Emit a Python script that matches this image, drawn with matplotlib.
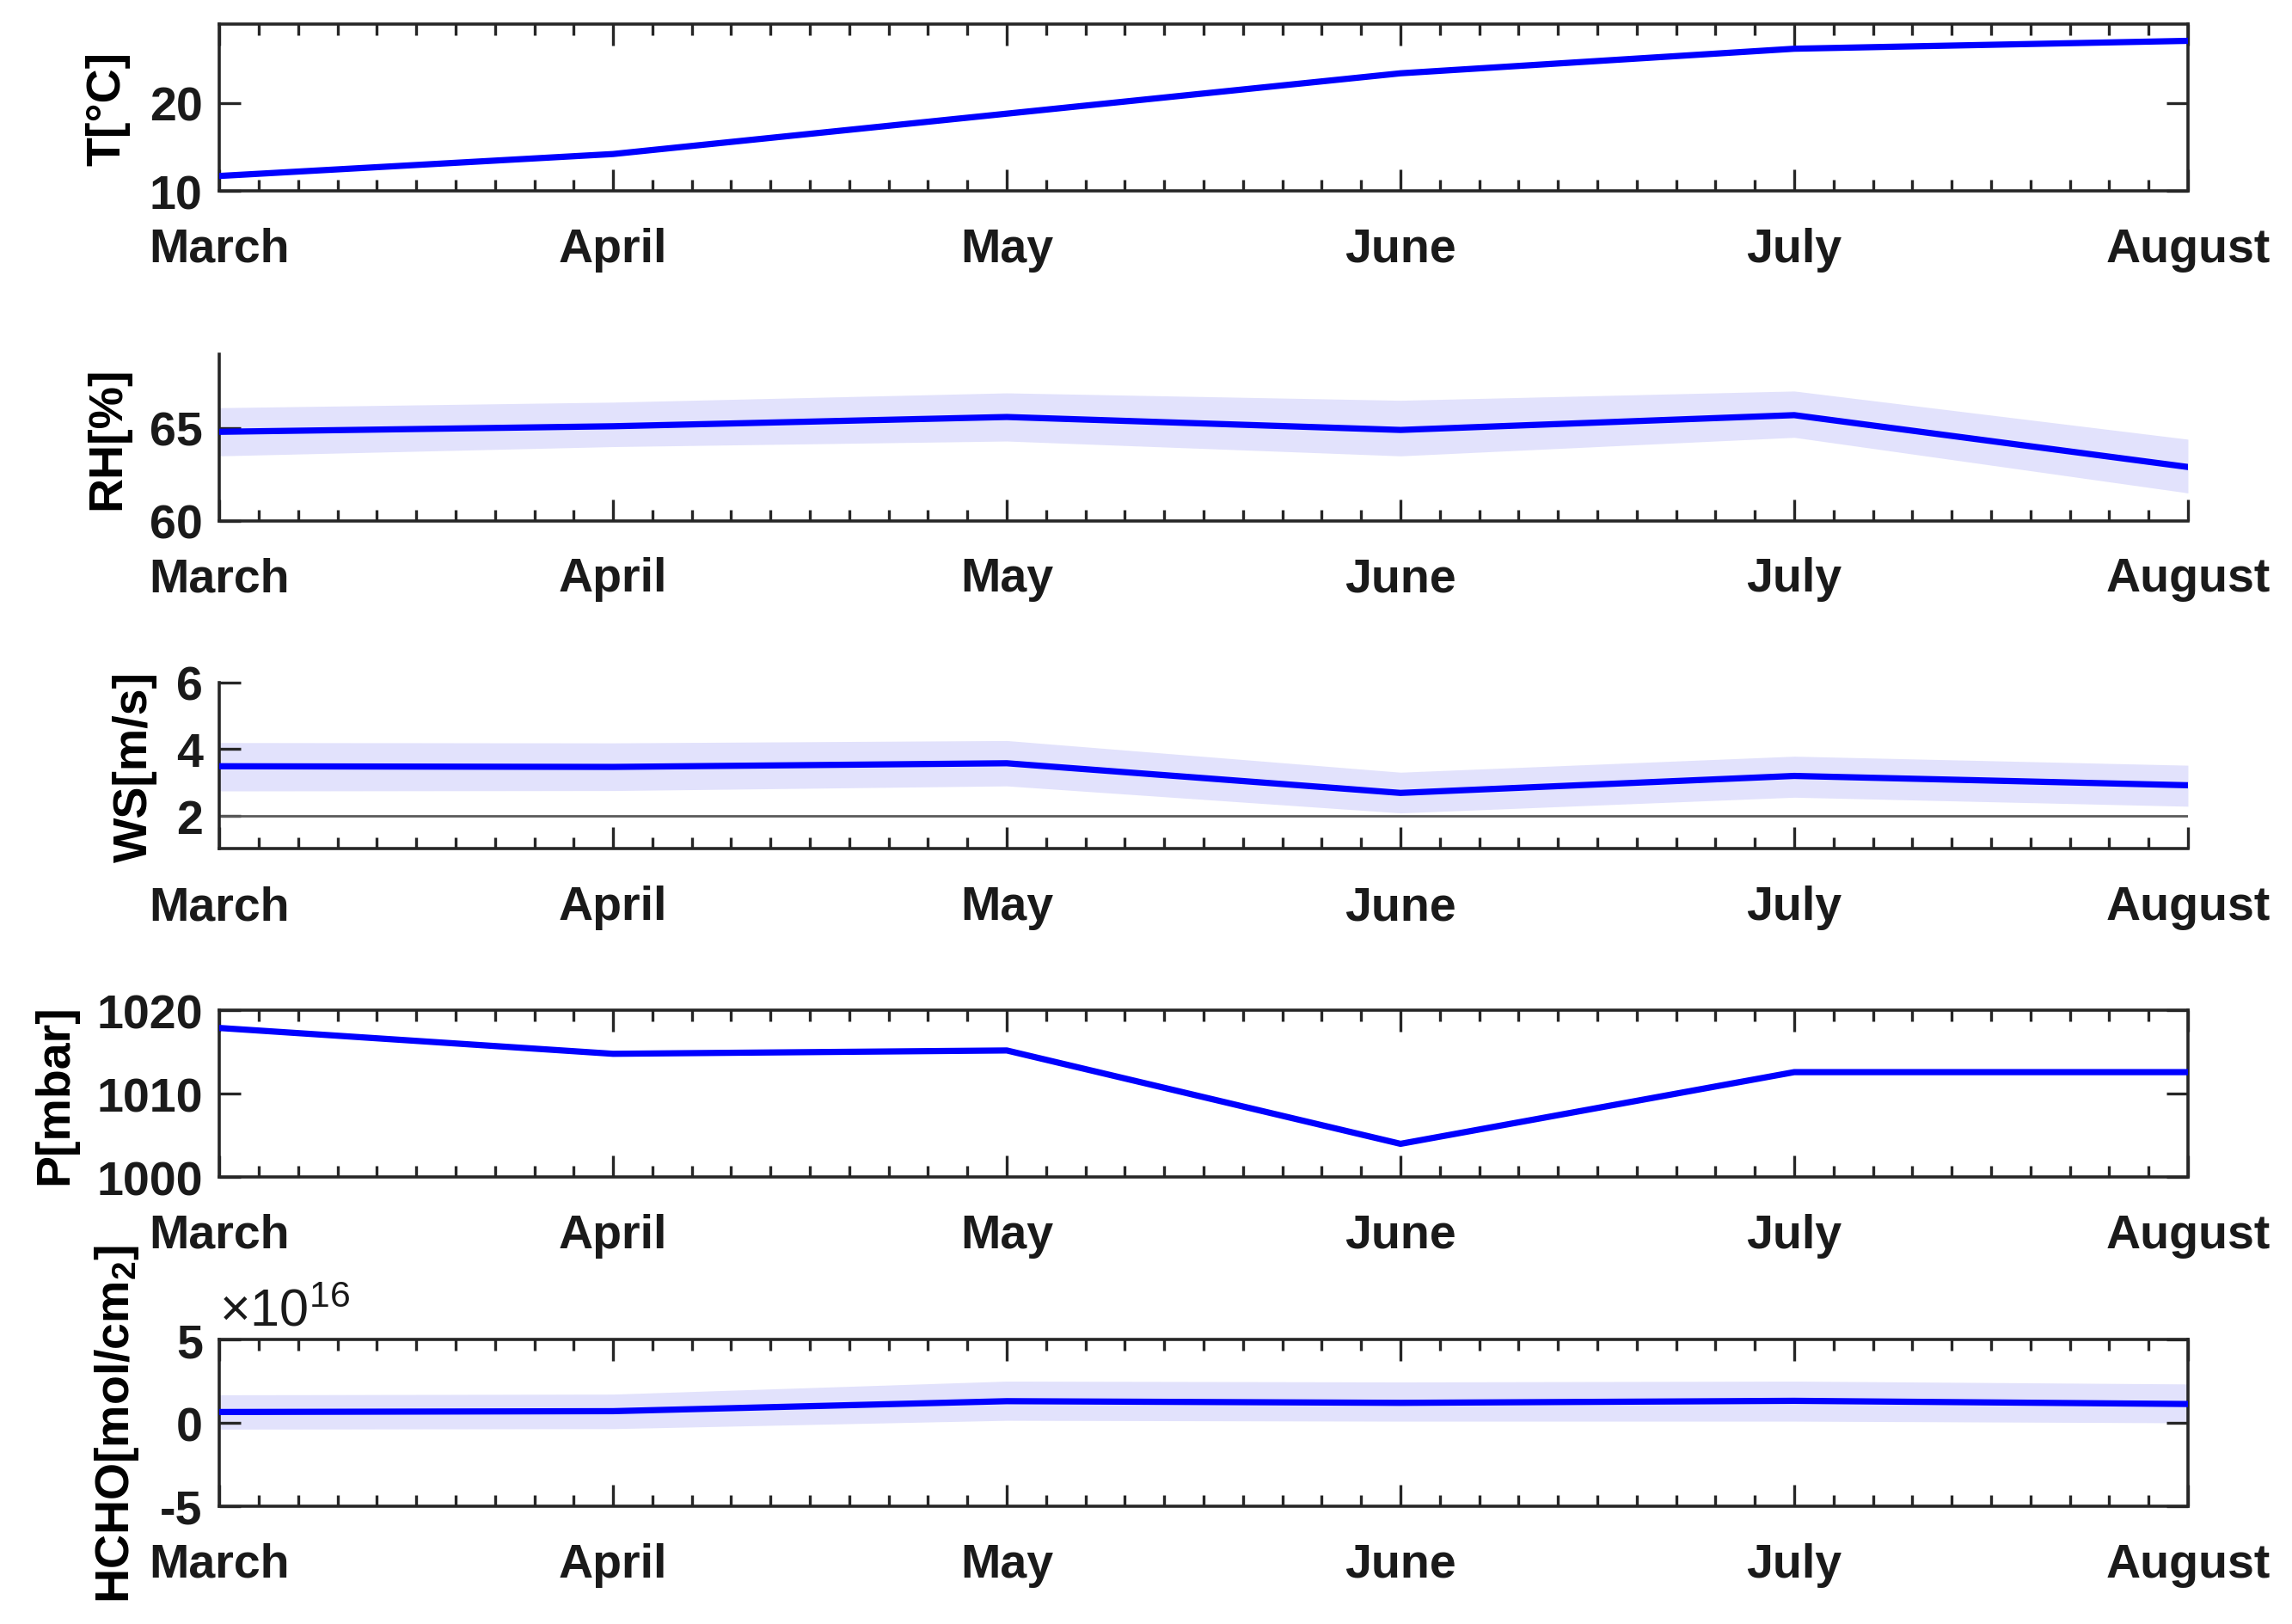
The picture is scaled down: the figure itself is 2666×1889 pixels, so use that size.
import matplotlib
matplotlib.use('Agg')
import matplotlib.pyplot as plt
from matplotlib.ticker import MultipleLocator, FixedLocator
import numpy as np

plt.rcParams['font.family'] = ['Liberation Sans', 'DejaVu Sans']
plt.rcParams['font.weight'] = 'bold'
plt.rcParams['mathtext.default'] = 'regular'
plt.rcParams['axes.unicode_minus'] = False

months = ['March', 'April', 'May', 'June', 'July', 'August']

# monthly means and lower/upper band values
temp = [11.7, 14.2, 18.8, 23.4, 26.2, 27.1]

rh = [64.8, 65.1, 65.6, 64.9, 65.7, 62.9]
rh_lo = [63.5, 64.0, 64.3, 63.5, 64.5, 61.5]
rh_hi = [66.1, 66.4, 66.9, 66.5, 67.0, 64.4]

ws = [3.48, 3.46, 3.57, 2.68, 3.19, 2.91]
ws_lo = [2.74, 2.75, 2.89, 2.08, 2.55, 2.28]
ws_hi = [4.19, 4.18, 4.25, 3.30, 3.78, 3.51]

pres = [1017.9, 1014.8, 1015.2, 1004.0, 1012.6, 1012.6]

hcho = [0.65, 0.70, 1.30, 1.20, 1.32, 1.13]      # x 1e16
hcho_lo = [-0.38, -0.35, 0.15, 0.10, 0.10, 0.00]
hcho_hi = [1.68, 1.72, 2.50, 2.45, 2.50, 2.33]

x = np.arange(len(months))

panels = [
    ('T[°C]', temp, None, None, (10, 29), [10, 20], True),
    ('RH[%]', rh, rh_lo, rh_hi, (60, 69), [60, 65], False),
    ('WS[m/s]', ws, ws_lo, ws_hi, (1, 6), [2, 4, 6], False),
    ('P[mbar]', pres, None, None, (1000, 1020), [1000, 1010, 1020], True),
    ('HCHO[mol/cm$_2$]', hcho, hcho_lo, hcho_hi, (-5, 5), [-5, 0, 5], True),
]

bottoms = [0.882, 0.679, 0.477, 0.275, 0.0725]
left, width, height = 0.0957, 0.8589, 0.1026
spine_col = '#262626'
fs = 20

fig = plt.figure(figsize=(13.33, 9.45), dpi=200)

for (label, y, lo, hi, ylim, yt, box), b in zip(panels, bottoms):
    ax = fig.add_axes([left, b, width, height])
    if lo is not None:
        ax.fill_between(x, lo, hi, color='#e2e2fc', linewidth=0, zorder=1)
    ax.plot(x, y, color='#0000ff', linewidth=2.6, zorder=3)
    ax.set_xlim(0, 5)
    ax.set_ylim(*ylim)
    ax.set_xticks(x)
    ax.set_xticklabels(months)
    ax.xaxis.set_minor_locator(MultipleLocator(0.1))
    ax.yaxis.set_major_locator(FixedLocator(yt))
    ax.set_ylabel(label, fontsize=fs, fontweight='bold', labelpad=8)
    for s in ax.spines.values():
        s.set_color(spine_col)
        s.set_linewidth(1.3)
    if box:
        ax.tick_params(which='both', direction='in', top=True, right=True)
    else:
        ax.spines['top'].set_visible(False)
        ax.spines['right'].set_visible(False)
        ax.tick_params(which='both', direction='in', top=False, right=False)
    ax.tick_params(which='major', length=9, width=1.2, color=spine_col,
                   labelsize=fs, labelcolor='#1a1a1a')
    ax.tick_params(which='minor', length=4.8, width=1.2, color=spine_col)
    ax.tick_params(axis='x', which='major', pad=15)
    ax.tick_params(axis='y', which='major', pad=7)
    for t in ax.get_xticklabels() + ax.get_yticklabels():
        t.set_fontweight('bold')
    if label.startswith('WS'):
        ax.axhline(2, color='#5a5a5a', linewidth=1.0, zorder=2)
    if label.startswith('HCHO'):
        ax.text(0.0, 1.02, r'$\times$10$^{16}$', transform=ax.transAxes,
                fontsize=22, fontweight='normal', ha='left', va='bottom',
                color='#1a1a1a')

fig.savefig('out.png', dpi=200)
